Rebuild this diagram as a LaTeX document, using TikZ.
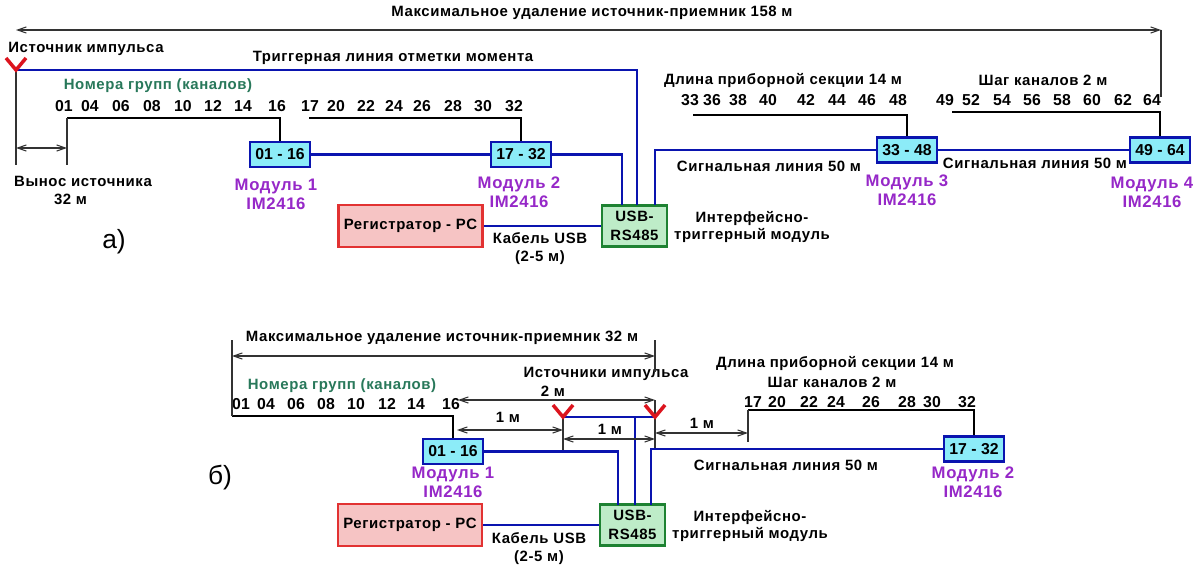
\documentclass[tikz,border=0pt]{standalone}
\usepackage{fontspec}
\setmainfont{Liberation Sans}
\newfontfamily\widefont{Liberation Sans}[LetterSpace=4]
\usetikzlibrary{arrows.meta}

\definecolor{sigblue}{RGB}{10,20,175}
\definecolor{modfill}{RGB}{140,236,248}
\definecolor{modtext}{RGB}{150,40,200}
\definecolor{grptext}{RGB}{40,120,90}
\definecolor{pcfill}{RGB}{246,196,196}
\definecolor{pcline}{RGB}{226,50,50}
\definecolor{usbfill}{RGB}{190,236,200}
\definecolor{usbline}{RGB}{30,130,50}
\definecolor{srcred}{RGB}{220,20,30}

\begin{document}
\begin{tikzpicture}
  [x=0.02cm,y=-0.02cm,
   every path/.style={>={Straight Barb[length=5pt,width=3.5pt]}},
   lbl/.style={font=\widefont\bfseries\fontsize{8.5}{10.2}\selectfont,inner sep=0pt,align=center},
   grp/.style={lbl,text=grptext},
   num/.style={font=\bfseries\fontsize{9}{10}\selectfont,inner sep=0pt},
   modbox/.style={draw=sigblue,fill=modfill,line width=1.3pt,minimum width=1.2cm,minimum height=0.5cm,inner sep=0pt,font=\bfseries\fontsize{9}{10}\selectfont},
   modname/.style={font=\widefont\bfseries\fontsize{9.5}{10.8}\selectfont,text=modtext,inner sep=0pt,align=center},
   pcbox/.style={draw=pcline,fill=pcfill,line width=1.3pt,minimum width=2.88cm,minimum height=0.84cm,inner sep=0pt,font=\widefont\bfseries\fontsize{8.5}{10}\selectfont},
   usbbox/.style={draw=usbline,fill=usbfill,line width=1.3pt,minimum width=1.3cm,minimum height=0.82cm,inner sep=0pt,align=center,font=\widefont\bfseries\fontsize{8.5}{10.8}\selectfont},
   sig/.style={draw=sigblue,line width=1.4pt},
   cable/.style={draw=black,line width=1.1pt},
   dimln/.style={draw=black!80,line width=0.6pt},
   srcv/.style={draw=srcred,line width=2pt},
   part/.style={font=\fontsize{15}{18}\selectfont,inner sep=0pt}]
  \path[use as bounding box,fill=white] (0,0) rectangle (1200,581);

  % ---- a) ----
  \node[lbl] (tmaxa) at (592,13) {Максимальное удаление источник-приемник 158 м};
  \node[lbl] (tsrca) at (86,49) {Источник импульса};
  \node[lbl] (ttrig) at (393,58) {Триггерная линия отметки момента};
  \node[grp] (tgrpa) at (158,86) {Номера групп (каналов)};
  \node[lbl] (tlena) at (783,80) {Длина приборной секции 14 м};
  \node[lbl] (tstepa) at (1043,80) {Шаг каналов 2 м};

  \foreach \n/\x in {01/64,04/90,06/121,08/152,10/183,12/213,14/243,16/277,
                     17/310,20/336,22/366,24/394,26/422,28/453,30/483,32/514}
    \node[num] (na\n) at (\x,106) {\n};
  \foreach \n/\x in {33/690,36/712,38/738,40/768,42/806,44/837,46/867,48/898,
                     49/945,52/971,54/1002,56/1032,58/1062,60/1092,62/1123,64/1152}
    \node[num] (na\n) at (\x,100) {\n};

  \node[modbox] (m1) at (280,154.5) {01 - 16};
  \node[modbox] (m2) at (521,154.5) {17 - 32};
  \node[modbox] (m3) at (907,150) {33 - 48};
  \node[modbox] (m4) at (1160,150) {49 - 64};
  \node[modname] (mn1) at (276,194.5) {Модуль 1\\IM2416};
  \node[modname] (mn2) at (519,192) {Модуль 2\\IM2416};
  \node[modname] (mn3) at (907,190.5) {Модуль 3\\IM2416};
  \node[modname] (mn4) at (1152,192.5) {Модуль 4\\IM2416};

  \node[pcbox] (pca) at (410.5,226) {Регистратор - PC};
  \node[usbbox] (usba) at (634.5,226) {USB-\\RS485};
  \node[lbl] (tusba) at (540,248.5) {Кабель USB\\(2-5 м)};
  \node[lbl] (tifa) at (752,227) {Интерфейсно-\\триггерный модуль};
  \node[lbl] (tsiga1) at (769,166) {Сигнальная линия 50 м};
  \node[lbl] (tsiga2) at (1035,163) {Сигнальная линия 50 м};
  \node[lbl] (toffa) at (83,190.5) {Вынос источника\\32 м\hspace*{5mm}};
  \node[part] (laba) at (114,242) {а)};

  \coordinate (srca) at (16,70);
  \coordinate (ga1) at (67,118);
  \coordinate (ga2) at (309,118);
  \coordinate (ga3) at (693,115);
  \coordinate (ga4) at (952,112);
  \coordinate (ua1) at (622,205);
  \coordinate (ua2) at (637,205);
  \coordinate (ua3) at (655,205);
  \coordinate (da1) at (16,30);
  \coordinate (da2) at (1161,30);
  \coordinate (oa1) at (16,148);
  \coordinate (oa2) at (67,148);

  \draw[cable] (ga1) -- (ga1 -| m1.north) -- (m1.north);
  \draw[cable] (ga2) -- (ga2 -| m2.north) -- (m2.north);
  \draw[cable] (ga3) -- (ga3 -| m3.north) -- (m3.north);
  \draw[cable] (ga4) -- (ga4 -| m4.north) -- (m4.north);

  \draw[sig] (m1.east) -- (m2.west);
  \draw[sig] (m2.east) -| (ua1);
  \draw[sig] (srca) -| (ua2);
  \draw[sig] (m3.west) -| (ua3);
  \draw[sig] (m3.east) -- (m4.west);
  \draw[sig] (pca.east) -- (usba.west);

  \draw[dimln,<->] (da1) -- (da2);
  \draw[dimln] (da2) -- ++(0,67);
  \draw[dimln] (srca) -- ++(0,95);
  \draw[dimln] (ga1) -- ++(0,47);
  \draw[dimln,<->] (oa1) -- (oa2);
  \draw[srcv] (srca) ++(-10,-12) -- (srca) -- ++(10,-12);

  % ---- b) ----
  \node[lbl] (tmaxb) at (442,338) {Максимальное удаление источник-приемник 32 м};
  \node[grp] (tgrpb) at (342,386) {Номера групп (каналов)};
  \node[lbl] (tsrcb) at (606,374) {Источники импульса};
  \node[lbl] (t2m) at (553,391) {2 м};
  \node[lbl] (t1ma) at (508,417) {1 м};
  \node[lbl] (t1mb) at (610,429) {1 м};
  \node[lbl] (t1mc) at (702,423) {1 м};
  \node[lbl] (tlenb) at (835,363) {Длина приборной секции 14 м};
  \node[lbl] (tstepb) at (832,382) {Шаг каналов 2 м};

  \foreach \n/\x in {01/241,04/266,06/296,08/326,10/356,12/387,14/416,16/451}
    \node[num] (nb\n) at (\x,404) {\n};
  \foreach \n/\x in {17/753,20/777,22/809,24/836,26/871,28/907,30/932,32/967}
    \node[num] (nb\n) at (\x,402) {\n};

  \node[modbox] (m5) at (453,451.5) {01 - 16};
  \node[modbox] (m6) at (974,449) {17 - 32};
  \node[modname] (mn5) at (453,482.5) {Модуль 1\\IM2416};
  \node[modname] (mn6) at (973,482.5) {Модуль 2\\IM2416};

  \node[pcbox] (pcb) at (410,525) {Регистратор - PC};
  \node[usbbox] (usbb) at (632.5,525) {USB-\\RS485};
  \node[lbl] (tusbb) at (539,549) {Кабель USB\\(2-5 м)};
  \node[lbl] (tifb) at (750,526) {Интерфейсно-\\триггерный модуль};
  \node[lbl] (tsigb) at (786,465) {Сигнальная линия 50 м};
  \node[part] (labb) at (220,478) {б)};

  \coordinate (gb1) at (232,416);
  \coordinate (gb2) at (748,410);
  \coordinate (srcb1) at (563,417);
  \coordinate (srcb2) at (655,417);
  \coordinate (ub1) at (618,505);
  \coordinate (ub2) at (635,505);
  \coordinate (ub3) at (651,505);
  \coordinate (db1) at (232,356);
  \coordinate (db2) at (655,356);
  \coordinate (d2a) at (458,400);
  \coordinate (d2b) at (655,400);
  \coordinate (d1a) at (457,430);
  \coordinate (d1b) at (563,430);
  \coordinate (d1c) at (563,439);
  \coordinate (d1d) at (655,439);
  \coordinate (d1e) at (655,433);
  \coordinate (d1f) at (748,433);

  \draw[cable] (gb1) -- (gb1 -| m5.north) -- (m5.north);
  \draw[cable] (gb2) -- (gb2 -| m6.north) -- (m6.north);

  \draw[sig] (m5.east) -| (ub1);
  \draw[sig] (m6.west) -| (ub3);
  \draw[sig] (srcb1) -- (srcb2);
  \draw[sig] (srcb1 -| ub2) -- (ub2);
  \draw[sig] (pcb.east) -- (usbb.west);

  \draw[dimln,<->] (db1) -- (db2);
  \draw[dimln] (db1) ++(0,-16) -- (gb1);
  \draw[dimln] (db2) ++(0,-16) -- ++(0,32);
  \draw[dimln,<->] (d2a) -- (d2b);
  \draw[dimln] (d2b) -- ++(0,48);
  \draw[dimln,<->] (d1a) -- (d1b);
  \draw[dimln] (srcb1) -- ++(0,33);
  \draw[dimln,<->] (d1c) -- (d1d);
  \draw[dimln,<->] (d1e) -- (d1f);
  \draw[dimln] (gb2) -- ++(0,32);
  \draw[srcv] (srcb1) ++(-10,-12) -- (srcb1) -- ++(10,-12);
  \draw[srcv] (srcb2) ++(-10,-12) -- (srcb2) -- ++(10,-12);
\end{tikzpicture}
\end{document}
